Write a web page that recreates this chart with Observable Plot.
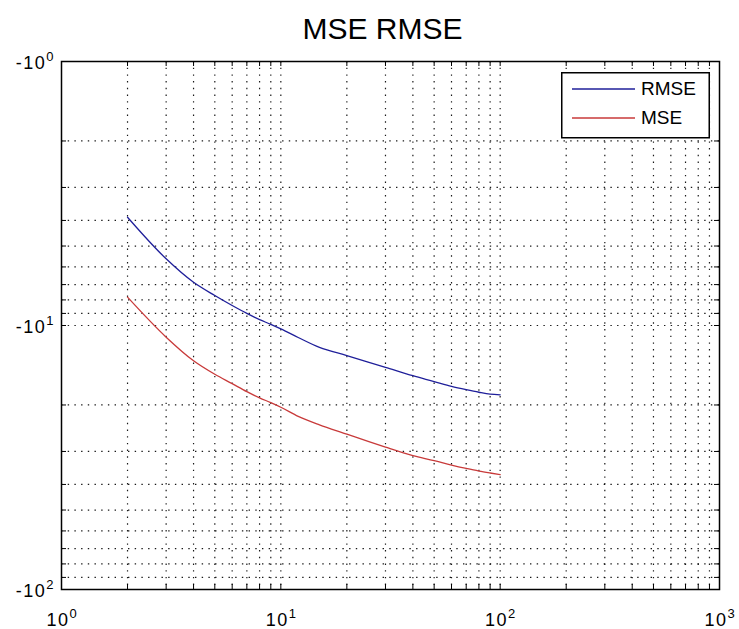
<!DOCTYPE html>
<html>
<head>
<meta charset="utf-8">
<script src="https://cdn.jsdelivr.net/npm/d3@7"></script>
<script src="https://cdn.jsdelivr.net/npm/@observablehq/plot@0.6"></script>
<style>
  html, body { margin: 0; padding: 0; background: #fff; }
  #wrap { position: relative; width: 739px; height: 629px; font-family: "Liberation Sans", Arial, Helvetica, sans-serif; }
  #legend { position: absolute; left: 561px; top: 72px; }
</style>
</head>
<body>
<div id="wrap"></div>
<script>
// ---- data ----
const titleText = "MSE RMSE";
const xs   = [2, 3, 4, 5, 6, 7, 8, 9, 10, 12, 15, 20, 25, 30, 40, 50, 60, 70, 80, 90, 100];
const rmse = [-3.89, -5.59, -6.86, -7.7, -8.4, -9.0, -9.5, -9.9, -10.3, -11.1, -12.1, -13.0, -13.75, -14.4, -15.5, -16.3, -17.0, -17.5, -17.9, -18.2, -18.3];
const mse  = [-7.81, -11.07, -13.6, -15.3, -16.6, -17.8, -18.8, -19.6, -20.4, -22.1, -23.8, -25.8, -27.5, -28.9, -31.1, -32.5, -33.8, -34.8, -35.6, -36.2, -36.7];
const seriesNames  = ["RMSE", "MSE"];
const seriesColors = ["#1f1f9a", "#c83a3a"];

const xMajor = [1, 10, 100, 1000];
const xMajorLabels = ["10^0", "10^1", "10^2", "10^3"];
const yMajor = [-1, -10, -100];
const yMajorLabels = ["-10^0", "-10^1", "-10^2"];
const xGrid = [2, 3, 4, 5, 6, 7, 8, 9, 10, 20, 30, 40, 50, 60, 70, 80, 90, 100, 200, 300, 400, 500, 600, 700, 800, 900];
const yGrid = [-2, -3, -4, -5, -6, -7, -8, -9, -10, -20, -30, -40, -50, -60, -70, -80, -90];
const xTicksAll = [1, 2, 3, 4, 5, 6, 7, 8, 9, 10, 20, 30, 40, 50, 60, 70, 80, 90, 100, 200, 300, 400, 500, 600, 700, 800, 900, 1000];
const yTicksAll = [-1, -2, -3, -4, -5, -6, -7, -8, -9, -10, -20, -30, -40, -50, -60, -70, -80, -90, -100];

// ---- build table ----
const rows = [];
xs.forEach((x, i) => rows.push({x, y: rmse[i], s: seriesNames[0]}));
xs.forEach((x, i) => rows.push({x, y: mse[i], s: seriesNames[1]}));

const W = 739, H = 629;
const mL = 61, mR = 20, mT = 61, mB = 40;
const fh = H - mT - mB, fw = W - mL - mR;
const dots = "1.4,5.3";

const chart = Plot.plot({
  width: W, height: H,
  marginLeft: mL, marginRight: mR, marginTop: mT, marginBottom: mB,
  style: {fontFamily: '"Liberation Sans", Arial, Helvetica, sans-serif', background: "#fff"},
  x: {type: "log", domain: [1, 1000], axis: null},
  y: {type: "log", domain: [-100, -1], axis: null},
  color: {domain: seriesNames, range: seriesColors},
  marks: [
    Plot.ruleX(xGrid, {x: d => d, stroke: "#000", strokeDasharray: dots, strokeWidth: 1.2, strokeOpacity: 0.9}),
    Plot.ruleY(yGrid, {y: d => d, stroke: "#000", strokeDasharray: dots, strokeWidth: 1.2, strokeOpacity: 0.9}),
    Plot.tickX(xTicksAll, {x: d => d, insetTop: fh - 5, stroke: "#000"}),
    Plot.tickX(xTicksAll, {x: d => d, insetBottom: fh - 5, stroke: "#000"}),
    Plot.tickY(yTicksAll, {y: d => d, insetRight: fw - 5, stroke: "#000"}),
    Plot.tickY(yTicksAll, {y: d => d, insetLeft: fw - 5, stroke: "#000"}),
    Plot.line(rows, {x: "x", y: "y", z: "s", stroke: "s", strokeWidth: 1.3, curve: "monotone-x"}),
    Plot.frame({stroke: "#000", strokeWidth: 1.5}),
    Plot.text(xMajor, {x: d => d, text: (d, i) => xMajorLabels[i], frameAnchor: "bottom", lineAnchor: "top", dy: 24, fontSize: 18, fill: "#000"}),
    Plot.text(yMajor, {y: d => d, text: (d, i) => yMajorLabels[i], frameAnchor: "left", textAnchor: "end", dx: -8, dy: 2, fontSize: 18, fill: "#000"}),
    Plot.text([titleText], {text: d => d, frameAnchor: "top", lineAnchor: "middle", dx: -8, dy: -32, fontSize: 30, fill: "#000"})
  ]
});

// superscripts for tick labels
d3.select(chart).selectAll("text").filter(function () { return this.textContent.includes("^"); }).each(function () {
  const parts = this.textContent.split("^");
  const t = d3.select(this);
  t.text(null);
  t.append("tspan").attr("letter-spacing", "1.5px").text(parts[0]);
  t.append("tspan").attr("dy", "-0.62em").attr("font-size", "13px").text(parts[1]);
});

document.getElementById("wrap").appendChild(chart);

// legend
const lg = d3.select("#wrap").append("svg").attr("id", "legend").attr("width", 150).attr("height", 67);
lg.append("rect").attr("x", 0.75).attr("y", 0.75).attr("width", 147.5).attr("height", 65).attr("fill", "#fff").attr("stroke", "#000").attr("stroke-width", 1.5);
seriesNames.forEach((name, i) => {
  const yy = 17 + i * 29;
  lg.append("line").attr("x1", 11).attr("x2", 74).attr("y1", yy).attr("y2", yy).attr("stroke", seriesColors[i]).attr("stroke-width", 1.5);
  lg.append("text").attr("x", 80).attr("y", yy + 6).attr("font-size", 19).attr("fill", "#000")
    .attr("font-family", '"Liberation Sans", Arial, Helvetica, sans-serif').text(name);
});
</script>
</body>
</html>
